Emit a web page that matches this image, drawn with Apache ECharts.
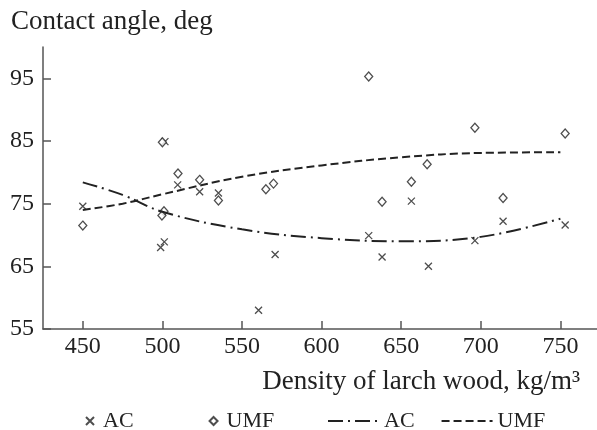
<!DOCTYPE html>
<html>
<head>
<meta charset="utf-8">
<script src="https://cdn.jsdelivr.net/npm/echarts@6/dist/echarts.min.js"></script>
<style>html,body{margin:0;padding:0;background:#fff;}#c{width:597px;height:430px;}</style>
</head>
<body>
<div id="c"></div>
<script>
// Scatter data: AC
var acX = [450, 501.6, 509.6, 523.4, 535.2, 498.9, 501.2, 570.8, 560.4, 656.4, 629.6, 638, 667.1, 696.3, 714, 753];
var acY = [74.6, 84.9, 78.0, 76.9, 76.7, 68.0, 68.9, 66.9, 58.0, 75.4, 69.9, 66.5, 65.0, 69.1, 72.2, 71.6];
// Scatter data: UMF
var umfX = [450, 500, 509.8, 523.4, 535.2, 501, 499.7, 565, 569.8, 629.6, 696.3, 753, 666.3, 656.4, 638, 714];
var umfY = [71.5, 84.8, 79.8, 78.8, 75.5, 73.8, 73.1, 77.3, 78.2, 95.3, 87.1, 86.2, 81.3, 78.5, 75.3, 75.9];
// Fitted curves
var fitX = [450, 475, 500, 550, 600, 650, 700, 750];
var acFit = [78.4, 76.4, 73.7, 70.9, 69.5, 69.0, 69.7, 72.6];
var umfFit = [74.0, 75.0, 76.5, 79.3, 81.1, 82.4, 83.1, 83.2];
// Tick labels
var xTicks = [450, 500, 550, 600, 650, 700, 750];
var yTicks = [55, 65, 75, 85, 95];

function zip(xs, ys) { return xs.map(function (x, i) { return [x, ys[i]]; }); }

var ink = '#222';
var font = 'Liberation Serif';
var chart = echarts.init(document.getElementById('c'));
chart.setOption({
  animation: false,
  backgroundColor: '#fff',
  textStyle: { fontFamily: font, color: ink },
  title: {
    text: 'Contact angle, deg', left: 11, top: 8, padding: 0,
    textStyle: { fontFamily: font, fontSize: 27, fontWeight: 'normal', color: ink }
  },
  grid: { left: 43, right: 0, top: 47, bottom: 101, containLabel: false },
  xAxis: {
    type: 'value', min: 425, max: 773,
    name: 'Density of larch wood, kg/m³',
    nameLocation: 'end', nameGap: -17,
    nameTextStyle: { fontFamily: font, fontSize: 27, color: ink, align: 'right', verticalAlign: 'top', padding: [39, 0, 0, 0] },
    axisLine: { lineStyle: { color: '#555', width: 1.5 } },
    axisTick: { inside: true, length: 8, customValues: xTicks, lineStyle: { color: '#555', width: 1.5 } },
    axisLabel: { customValues: xTicks, fontFamily: font, fontSize: 24, color: ink, margin: 6 },
    splitLine: { show: false }
  },
  yAxis: {
    type: 'value', min: 55, max: 100,
    axisLine: { show: true, lineStyle: { color: '#555', width: 1.5 } },
    axisTick: { show: true, inside: true, length: 8, customValues: yTicks, lineStyle: { color: '#555', width: 1.5 } },
    axisLabel: { customValues: yTicks, fontFamily: font, fontSize: 24, color: ink, margin: 9 },
    splitLine: { show: false }
  },
  legend: [{
    data: ['AC points', 'UMF points'],
    formatter: function (n) { return n.split(' ')[0]; },
    left: 85, top: 410, padding: 0, itemWidth: 8, itemHeight: 8, itemGap: 75,
    textStyle: { fontFamily: font, fontSize: 22, color: ink, padding: [0, 0, 0, 4] }
  }, {
    data: ['AC fit', 'UMF fit'],
    formatter: function (n) { return n.split(' ')[0]; },
    left: 327, top: 410, padding: 0, itemWidth: 51, itemHeight: 12, itemGap: 26,
    itemStyle: { opacity: 0 },
    textStyle: { fontFamily: font, fontSize: 22, color: ink }
  }],
  series: [{
    name: 'AC fit', type: 'line', data: zip(fitX, acFit), smooth: 0.4,
    symbol: 'none', lineStyle: { color: ink, width: 2, type: [15, 5, 2, 5] }, itemStyle: { color: ink }
  }, {
    name: 'UMF fit', type: 'line', data: zip(fitX, umfFit), smooth: 0.4,
    symbol: 'none', lineStyle: { color: ink, width: 2, type: [8, 4] }, itemStyle: { color: ink }
  }, {
    name: 'AC points', type: 'scatter', data: zip(acX, acY),
    symbol: 'path://M0 0L10 10M10 0L0 10', symbolSize: 7,
    itemStyle: { color: 'rgba(0,0,0,0)', borderColor: ink, borderWidth: 1.3 }
  }, {
    name: 'UMF points', type: 'scatter', data: zip(umfX, umfY),
    symbol: 'diamond', symbolSize: [8, 9],
    itemStyle: { color: '#fff', borderColor: ink, borderWidth: 1.3 }
  }]
});
</script>
</body>
</html>
